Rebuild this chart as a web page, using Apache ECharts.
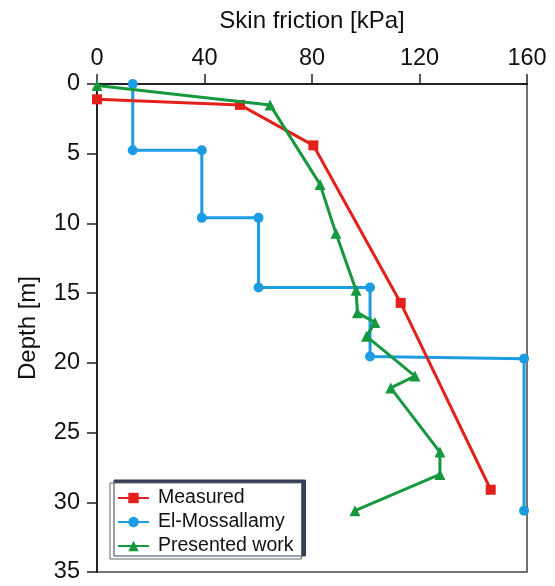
<!DOCTYPE html>
<html>
<head>
<meta charset="utf-8">
<script src="https://cdn.jsdelivr.net/npm/echarts@6/dist/echarts.min.js"></script>
<style>html,body{margin:0;padding:0;background:#fff}#c{width:555px;height:586px}</style>
</head>
<body>
<div id="c"></div>
<script>
// Skin friction [kPa] vs depth [m]
const measuredFriction = [0, 53.2, 80.5, 113, 146.5];
const measuredDepth    = [1.1, 1.5, 4.4, 15.7, 29.1];

const elMossFriction = [13.3, 13.3, 39, 39, 60.1, 60.1, 101.6, 101.6, 158.9, 158.9];
const elMossDepth    = [0, 4.75, 4.75, 9.6, 9.6, 14.6, 14.6, 19.55, 19.7, 30.6];

const presentedFriction = [0, 64.4, 83, 88.9, 96.4, 96.9, 103.4, 100.3, 118.3, 109.3, 127.6, 127.6, 96];
const presentedDepth    = [0.1, 1.5, 7.2, 10.7, 14.8, 16.4, 17.1, 18.1, 20.95, 21.8, 26.4, 28.0, 30.6];

const xTicks = [0, 40, 80, 120, 160];
const yTicks = [0, 5, 10, 15, 20, 25, 30, 35];

const seriesNames = ['Measured', 'El-Mossallamy', 'Presented work'];

function pairs(xs, ys) { return xs.map((x, i) => [x, ys[i]]); }

const FONT = "'Liberation Sans', Arial, sans-serif";
const chart = echarts.init(document.getElementById('c'), null, {renderer: 'canvas'});
chart.setOption({
  animation: false,
  textStyle: {fontFamily: FONT},
  grid: {left: 97, right: 28, top: 84, bottom: 14, show: true, borderColor: '#444', borderWidth: 1.5, backgroundColor: 'transparent'},
  legend: {
    orient: 'vertical', left: 110, top: 483,
    data: seriesNames,
    itemWidth: 31, itemHeight: 13, itemGap: 4,
    padding: [5, 8, 3, 7],
    backgroundColor: '#fff', borderColor: '#666', borderWidth: 1,
    shadowColor: '#34405a', shadowBlur: 0, shadowOffsetX: 4, shadowOffsetY: -3,
    textStyle: {fontSize: 19.5, color: '#111', fontFamily: FONT, lineHeight: 20, padding: [0, 0, 0, 4]}
  },
  xAxis: {
    type: 'value', position: 'top', min: xTicks[0], max: xTicks[xTicks.length - 1], interval: 40,
    name: 'Skin friction [kPa]', nameLocation: 'middle', nameGap: 51,
    nameTextStyle: {fontSize: 24, color: '#111', fontFamily: FONT},
    axisLine: {show: true, onZero: false, lineStyle: {color: '#222', width: 2}},
    axisTick: {show: true, inside: false, length: 10, lineStyle: {color: '#222', width: 1.5}},
    axisLabel: {fontSize: 23.5, color: '#111', margin: 13, fontFamily: FONT},
    splitLine: {show: false}
  },
  yAxis: {
    type: 'value', inverse: true, min: yTicks[0], max: yTicks[yTicks.length - 1], interval: 5,
    name: 'Depth [m]', nameLocation: 'middle', nameGap: 57, nameRotate: 90,
    nameTextStyle: {fontSize: 24, color: '#111', fontFamily: FONT},
    axisLine: {show: true, onZero: false, lineStyle: {color: '#222', width: 2}},
    axisTick: {show: true, inside: false, length: 10, lineStyle: {color: '#222', width: 1.5}},
    axisLabel: {fontSize: 23.5, color: '#111', margin: 17, fontFamily: FONT},
    splitLine: {show: false}
  },
  series: [
    {
      name: seriesNames[0], type: 'line', data: pairs(measuredFriction, measuredDepth),
      symbol: 'rect', symbolSize: 10, clip: false,
      lineStyle: {color: '#e3211c', width: 3}, itemStyle: {color: '#e3211c'}, z: 3
    },
    {
      name: seriesNames[1], type: 'line', data: pairs(elMossFriction, elMossDepth),
      symbol: 'circle', symbolSize: 10, clip: false,
      lineStyle: {color: '#1b9ce3', width: 3}, itemStyle: {color: '#1b9ce3'}, z: 2
    },
    {
      name: seriesNames[2], type: 'line', data: pairs(presentedFriction, presentedDepth),
      symbol: 'triangle', symbolSize: 11, clip: false,
      lineStyle: {color: '#16983f', width: 3}, itemStyle: {color: '#16983f'}, z: 4
    }
  ]
});
</script>
</body>
</html>
